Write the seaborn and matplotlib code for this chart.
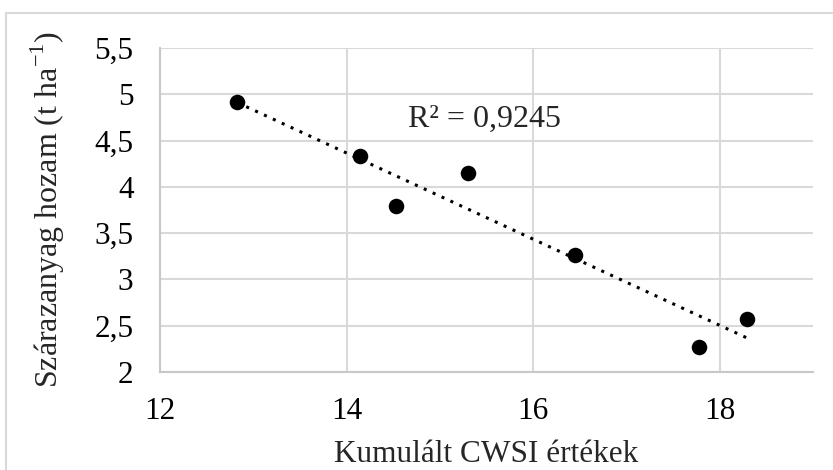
import matplotlib
matplotlib.use("Agg")
import matplotlib.pyplot as plt
import matplotlib.patches as patches
import seaborn as sns
import pandas as pd

# data
cwsi = [12.83, 14.14, 14.53, 15.30, 16.45, 17.78, 18.29]
yield_t = [4.92, 4.33, 3.79, 4.15, 3.26, 2.27, 2.57]
x_ticks = [12, 14, 16, 18]
x_tick_labels = ["12", "14", "16", "18"]
y_ticks = [2, 2.5, 3, 3.5, 4, 4.5, 5, 5.5]
y_tick_labels = ["2", "2,5", "3", "3,5", "4", "4,5", "5", "5,5"]
r2_label = "R² = 0,9245"

df = pd.DataFrame({"cwsi": cwsi, "yield": yield_t})

sns.set_theme(style="white")
plt.rcParams["font.family"] = ["Liberation Serif", "DejaVu Serif"]
plt.rcParams["mathtext.fontset"] = "custom"
plt.rcParams["mathtext.rm"] = "Liberation Serif"

grid_col = "#d9d9d9"

fig = plt.figure(figsize=(8.33, 4.70), dpi=100)
ax = fig.add_axes([0.192, 0.2085, 0.784, 0.6895])

sns.regplot(
    data=df, x="cwsi", y="yield", ax=ax, ci=None,
    scatter_kws={"s": 125, "color": "black", "alpha": 1, "zorder": 3, "linewidths": 0},
    line_kws={"color": "black", "linestyle": (0, (1, 2.2)), "linewidth": 2.2, "zorder": 2},
)

ax.set_xlim(12, 19)
ax.set_ylim(2, 5.5)
ax.set_xticks(x_ticks)
ax.set_xticklabels(x_tick_labels)
ax.set_yticks(y_ticks)
ax.set_yticklabels(y_tick_labels)
ax.grid(True, color=grid_col, linewidth=1.5)
ax.set_axisbelow(True)
for side in ["top", "right"]:
    ax.spines[side].set_visible(False)
for side in ["left", "bottom"]:
    ax.spines[side].set_color("#c8c8c8")
    ax.spines[side].set_linewidth(1.5)
ax.tick_params(axis="both", length=0, labelsize=22.5, colors="black")
ax.tick_params(axis="x", pad=18)
ax.tick_params(axis="y", pad=19)

ax.set_xlabel("Kumulált CWSI értékek", fontsize=22.5, labelpad=10)
ax.set_ylabel(r"Szárazanyag hozam (t ha$^{\mathregular{-1}}$)", fontsize=23, labelpad=20)

ax.text(14.66, 4.73, r2_label, fontsize=23, ha="left", va="center")

# chart frame
fig.patches.append(patches.Rectangle((0.0072, -0.2), 1.2, 1.172, transform=fig.transFigure,
                                     fill=False, edgecolor=grid_col, linewidth=1.5))

fig.savefig("out.png", dpi=100)
plt.close()
